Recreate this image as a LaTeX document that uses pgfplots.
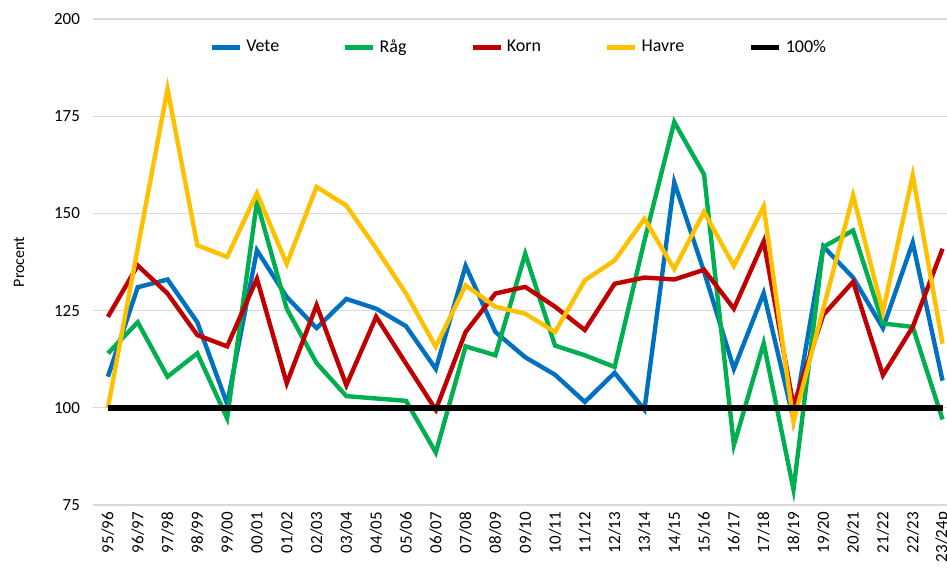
\documentclass[border=0pt]{standalone}
\usepackage{fontspec}
\setmainfont{Carlito}
\usepackage{pgfplots}
\pgfplotsset{compat=1.18}
\definecolor{cvete}{RGB}{0,112,192}
\definecolor{crag}{RGB}{0,176,80}
\definecolor{ckorn}{RGB}{192,0,0}
\definecolor{chavre}{RGB}{255,192,0}
\begin{document}
\begin{tikzpicture}
\begin{axis}[
  scale only axis, width=427pt, height=243pt,
  xmin=-0.5, xmax=28.15, ymin=75, ymax=200,
  ytick={75,100,...,200},
  xtick={0,...,28},
  xticklabels={95/96,96/97,97/98,98/99,99/00,00/01,01/02,02/03,03/04,04/05,05/06,06/07,07/08,08/09,09/10,10/11,11/12,12/13,13/14,14/15,15/16,16/17,17/18,18/19,19/20,20/21,21/22,22/23,23/24p},
  x tick label style={rotate=90, anchor=east, font=\fontsize{8.5}{9}\selectfont, yshift=0pt},
  y tick label style={font=\fontsize{8.5}{9}\selectfont, xshift=-3pt},
  /pgf/number format/assume math mode=true,
  axis line style={draw=none},
  tick style={draw=none},
  ymajorgrids, grid style={gray!30, line width=0.6pt},
  ylabel={Procent}, ylabel style={font=\fontsize{8}{9}\selectfont, yshift=8pt},
  legend style={at={(0.5,0.975)}, anchor=north, draw=none, fill=none,
    legend columns=5, font=\fontsize{9}{10}\selectfont,
    /tikz/every even column/.append style={column sep=30pt}},
  legend image code/.code={\draw[#1] (0pt,0pt) -- (14pt,0pt);},
]
\addplot[cvete, line width=2.2pt] coordinates {
(0,108) (1,131) (2,133) (3,122) (4,101) (5,140.5) (6,128.5) (7,120.5) (8,128) (9,125.5)
(10,121) (11,110) (12,136.5) (13,119.5) (14,113) (15,108.5) (16,101.5) (17,109) (18,99.5) (19,158)
(20,135) (21,110) (22,129.5) (23,97) (24,141.5) (25,133.5) (26,120.5) (27,142.5) (28,107)};
\addlegendentry{Vete}
\addplot[crag, line width=2.2pt] coordinates {
(0,114) (1,122) (2,108) (3,114) (4,97.3) (5,153) (6,125.5) (7,111.5) (8,103) (9,102.4)
(10,101.8) (11,88.5) (12,115.8) (13,113.5) (14,139.6) (15,116) (16,113.5) (17,110.5) (18,143) (19,173.5)
(20,160) (21,90.4) (22,116.6) (23,79) (24,141.4) (25,145.6) (26,121.7) (27,120.8) (28,97)};
\addlegendentry{Råg}
\addplot[ckorn, line width=2.2pt] coordinates {
(0,123.4) (1,136.6) (2,129.4) (3,118.7) (4,115.8) (5,133.2) (6,106.3) (7,126.4) (8,105.8) (9,123.4)
(10,111.4) (11,99.5) (12,119.5) (13,129.4) (14,131.1) (15,126) (16,120) (17,131.9) (18,133.5) (19,133)
(20,135.5) (21,125.5) (22,142.8) (23,100.5) (24,123.9) (25,132.4) (26,108.4) (27,120.8) (28,140.9)};
\addlegendentry{Korn}
\addplot[chavre, line width=2.2pt] coordinates {
(0,100) (1,141) (2,182) (3,141.8) (4,138.8) (5,155.2) (6,137) (7,156.8) (8,152) (9,141)
(10,129.4) (11,115.7) (12,131.5) (13,126) (14,124.2) (15,119.5) (16,132.8) (17,137.9) (18,148.6) (19,135.7)
(20,150.4) (21,136.5) (22,151.8) (23,96.4) (24,125.5) (25,154.6) (26,124.7) (27,159.8) (28,116.5)};
\addlegendentry{Havre}
\addplot[black, line width=2.8pt] coordinates {(0,100) (28,100)};
\addlegendentry{100\%}
\end{axis}
\pgfresetboundingbox
\path ([shift={(-46.5pt,-34pt)}]current axis.south west) rectangle ([shift={(0pt,9.5pt)}]current axis.north east);
\end{tikzpicture}
\end{document}
